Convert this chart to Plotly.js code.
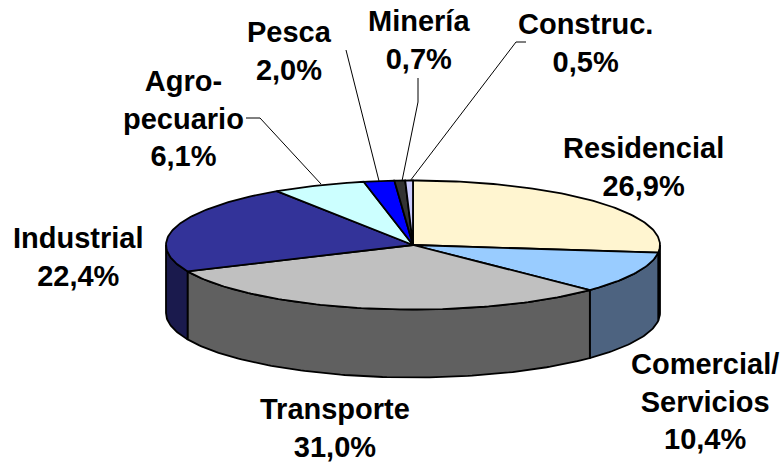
<!DOCTYPE html>
<html>
<head>
<meta charset="utf-8">
<script src="https://cdn.plot.ly/plotly-3.0.1.min.js"></script>
<style>html,body{margin:0;padding:0;background:#fff}#chart{width:784px;height:464px}</style>
</head>
<body>
<div id="chart"></div>
<script>
// Data, clockwise from 12 o'clock
const categories = ["Residencial","Comercial/<br>Servicios","Transporte","Industrial","Agro-<br>pecuario","Pesca","Minería","Construc."];
const values = [26.9,10.4,31.0,22.4,6.1,2.0,0.7,0.5];
const valueLabels = ["26,9%","10,4%","31,0%","22,4%","6,1%","2,0%","0,7%","0,5%"];
const topColors = ["#FFF5D0","#99CCFF","#C0C0C0","#333399","#CCFFFF","#0000FF","#333333","#CCCCFF"];
const sideColors = ["#6b6750","#4D6380","#606060","#1A1A4D","#668080","#000080","#1a1a1a","#666680"];
// Label anchor positions (centre x, centre y)
const labelX = [643,705,335,78,183,289,419,585];
const labelY = [167,401,428,257,118,51,40,43];
// Leader lines
const leaders = [
  {x:[246,260,321], y:[118,118,184]},
  {x:[346,379], y:[50,181]},
  {x:[418,418,402], y:[78,102,181]},
  {x:[526,516,410], y:[42,42,181]}
];
const cx = 413, cy = 245, rx = 247, ry = 64.5, depth = 68;
const ink = "#000000", lw = 1.8;
const px = d => cx + rx * Math.sin(d * Math.PI / 180);
const py = d => cy - ry * Math.cos(d * Math.PI / 180);

function arc(a, b) {
  const out = [];
  const n = Math.max(2, Math.ceil(Math.abs(b - a)));
  for (let i = 0; i <= n; i++) out.push(a + (b - a) * i / n);
  return out;
}
const traces = [];
function poly(xs, ys, fill) {
  traces.push({type:"scatter", mode:"lines", x:xs, y:ys, fill:"toself", fillcolor:fill,
    line:{color:ink, width:lw}, hoverinfo:"skip", showlegend:false});
}
const total = values.reduce((s, v) => s + v, 0);
const slices = [];
let run = 0;
values.forEach((v, i) => {
  slices.push({a: run / total * 360, b: (run + v) / total * 360, i});
  run += v;
});
// Front walls (angles 90..270 face the viewer)
slices.forEach(s => {
  const a = Math.max(s.a, 90), b = Math.min(s.b, 270);
  if (b <= a) return;
  const t = arc(a, b);
  const xs = t.map(px).concat(t.slice().reverse().map(px));
  const ys = t.map(py).concat(t.slice().reverse().map(d => py(d) + depth));
  xs.push(xs[0]); ys.push(ys[0]);
  poly(xs, ys, sideColors[s.i]);
});
// Top faces
slices.forEach(s => {
  const t = arc(s.a, s.b);
  const xs = [cx].concat(t.map(px), [cx]);
  const ys = [cy].concat(t.map(py), [cy]);
  poly(xs, ys, topColors[s.i]);
});
// Leaders
leaders.forEach(l => traces.push({type:"scatter", mode:"lines", x:l.x, y:l.y,
  line:{color:"#000000", width:1}, hoverinfo:"skip", showlegend:false}));

const annotations = categories.map((c, i) => ({
  x: labelX[i], y: labelY[i], xref:"x", yref:"y", showarrow:false,
  text: "<b>" + c + "<br>" + valueLabels[i] + "</b>", align:"center",
  xanchor:"center", yanchor:"middle",
  font:{family:"Liberation Sans, Arial, sans-serif", size:29, color:"#000000"}
}));

const layout = {
  width:784, height:464, margin:{l:0,r:0,t:0,b:0},
  paper_bgcolor:"#ffffff", plot_bgcolor:"#ffffff",
  xaxis:{range:[0,784], visible:false, fixedrange:true},
  yaxis:{range:[464,0], visible:false, fixedrange:true},
  showlegend:false, annotations
};
Plotly.newPlot("chart", traces, layout, {displayModeBar:false, staticPlot:true});
</script>
</body>
</html>
